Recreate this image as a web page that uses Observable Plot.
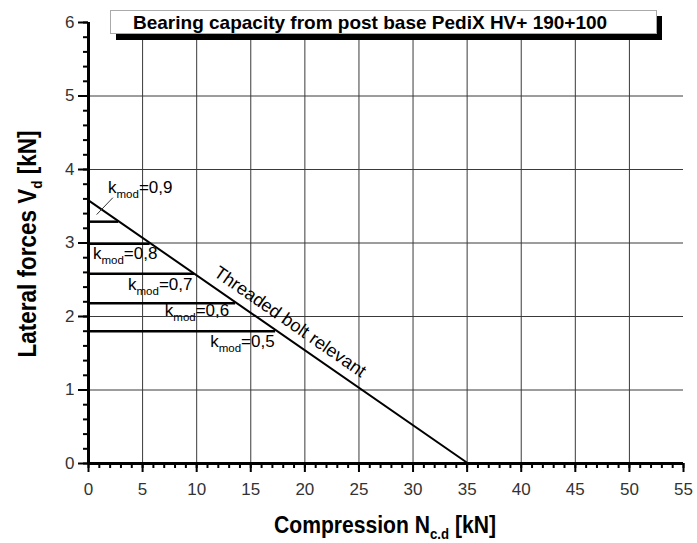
<!DOCTYPE html>
<html>
<head>
<meta charset="utf-8">
<script src="https://cdn.jsdelivr.net/npm/d3@7"></script>
<script src="https://cdn.jsdelivr.net/npm/@observablehq/plot@0.6"></script>
<style>
  html, body { margin: 0; padding: 0; background: #fff; }
  #chart { width: 697px; height: 543px; }
  svg { font-family: "Liberation Sans", Arial, sans-serif; }
</style>
</head>
<body>
<div id="chart"></div>
<script>
// ---- data ----
const titleText = "Bearing capacity from post base PediX HV+ 190+100";
const xTicksMajor = [0, 5, 10, 15, 20, 25, 30, 35, 40, 45, 50, 55];
const yTicksMajor = [0, 1, 2, 3, 4, 5, 6];
const xTicksMinor = d3.range(0, 56, 1);
const yTicksMinor = d3.range(0, 31).map(i => i / 5);

// threaded bolt limit line (compression N, lateral V)
const boltN = [0, 35.1];
const boltV = [3.58, 0];

// kmod horizontal limits
const kmodValues = ["0,9", "0,8", "0,7", "0,6", "0,5"];
const kmodV = [3.29, 2.99, 2.58, 2.18, 1.80];
const kmodNEnd = [2.8, 5.7, 9.8, 13.6, 17.3];

// label anchors (data coords)
const kmodLabelN = [1.85, 0.46, 3.7, 7.1, 11.3];
const kmodLabelV = [3.67, 2.77, 2.36, 2.0, 1.58];

const boltData = boltN.map((n, i) => ({n, v: boltV[i]}));
const kmodData = kmodValues.map((k, i) => ({k, v: kmodV[i], nEnd: kmodNEnd[i], ln: kmodLabelN[i], lv: kmodLabelV[i]}));

const tickFont = 17;
const plot = Plot.plot({
  width: 697,
  height: 543,
  marginLeft: 88,
  marginRight: 14,
  marginTop: 22,
  marginBottom: 80,
  style: {fontFamily: "Liberation Sans, Arial, sans-serif", background: "#fff"},
  x: {domain: [0, 55]},
  y: {domain: [0, 6]},
  marks: [
    Plot.gridX(xTicksMajor.filter(d => d > 0 && d < 55), {stroke: "#3a3a3a", strokeOpacity: 1, strokeWidth: 1}),
    Plot.gridY(yTicksMajor.filter(d => d > 0 && d < 6), {stroke: "#3a3a3a", strokeOpacity: 1, strokeWidth: 1}),
    Plot.line(boltData, {x: "n", y: "v", stroke: "#000", strokeWidth: 2}),
    Plot.ruleY(kmodData, {y: "v", x1: 0, x2: "nEnd", stroke: "#000", strokeWidth: 2.5}),
    Plot.axisX(xTicksMinor, {tickSize: 5, strokeWidth: 2, text: null, label: null}),
    Plot.axisY(yTicksMinor, {tickSize: 5, strokeWidth: 2, text: null, label: null}),
    Plot.axisX(xTicksMajor, {tickSize: 9, strokeWidth: 2, tickPadding: 10, fontSize: tickFont, fill: "#333", label: null, tickFormat: d => String(d)}),
    Plot.axisY(yTicksMajor, {tickSize: 10, strokeWidth: 2, tickPadding: 4, fontSize: tickFont, fill: "#333", label: null, tickFormat: d => String(d)}),
    Plot.ruleY([0], {stroke: "#000", strokeWidth: 3}),
    Plot.ruleX([0], {stroke: "#000", strokeWidth: 3})
  ]
});
document.getElementById("chart").appendChild(plot);

const sx = plot.scale("x"), sy = plot.scale("y");
const X = v => sx.apply(v), Y = v => sy.apply(v);
const svg = d3.select(plot);

// title box with shadow
const g = svg.append("g");
g.append("rect").attr("x", 116).attr("y", 16).attr("width", 546).attr("height", 24).attr("fill", "#000");
g.append("rect").attr("x", 110.5).attr("y", 10.5).attr("width", 546).attr("height", 23).attr("fill", "#fff").attr("stroke", "#aaa").attr("stroke-width", 1);
g.append("text").attr("x", 133).attr("y", 28.5).attr("text-anchor", "start").attr("font-size", 19).attr("font-weight", "bold").attr("fill", "#000").text(titleText);

// axis titles (slightly condensed, like the reference face)
const xt = svg.append("text").attr("transform", "translate(385,533) scale(0.88,1)").attr("text-anchor", "middle")
  .attr("font-size", 24).attr("font-weight", "bold").attr("fill", "#000");
xt.append("tspan").text("Compression N");
xt.append("tspan").attr("font-size", 15).attr("dy", 6).text("c.d");
xt.append("tspan").attr("dy", -6).text(" [kN]");

const yt = svg.append("text").attr("transform", "translate(36,244) rotate(-90) scale(0.9,1)").attr("text-anchor", "middle")
  .attr("font-size", 25).attr("font-weight", "bold").attr("fill", "#000");
yt.append("tspan").text("Lateral forces V");
yt.append("tspan").attr("font-size", 15).attr("dy", 6).text("d");
yt.append("tspan").attr("dy", -6).text(" [kN]");

// kmod labels
kmodData.forEach(d => {
  const t = svg.append("text").attr("x", X(d.ln)).attr("y", Y(d.lv)).attr("text-anchor", "start").attr("font-size", 17).attr("fill", "#000");
  t.append("tspan").text("k");
  t.append("tspan").attr("font-size", 11.5).attr("dy", 5).text("mod");
  t.append("tspan").attr("dy", -5).text("=" + d.k);
});
// leader line for kmod 0,9
svg.append("line").attr("x1", X(2.3)).attr("y1", Y(3.61)).attr("x2", X(0.8)).attr("y2", Y(3.38))
  .attr("stroke", "#333").attr("stroke-width", 1);

// bolt label along the line
const bx = 17.9, by = boltV[0] + (boltV[1] - boltV[0]) * (bx - boltN[0]) / (boltN[1] - boltN[0]);
const ang = Math.atan2(Y(boltV[1]) - Y(boltV[0]), X(boltN[1]) - X(boltN[0])) * 180 / Math.PI;
svg.append("text").attr("transform", `translate(${X(bx)},${Y(by)}) rotate(${ang})`)
  .attr("y", -9).attr("text-anchor", "middle").attr("font-size", 18).attr("fill", "#000")
  .text("Threaded bolt relevant");
</script>
</body>
</html>
